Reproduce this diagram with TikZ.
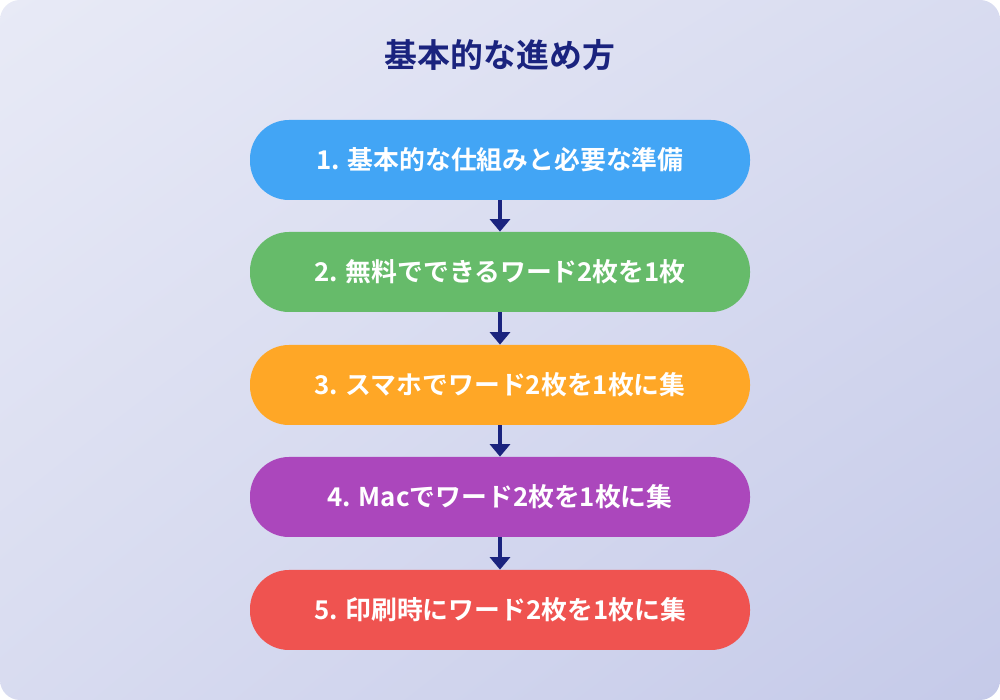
\documentclass[tikz,border=0pt]{standalone}
\usepackage{fontspec}
\usepackage{xcolor}
\usepackage{tikz}
\usetikzlibrary{arrows.meta, positioning, calc, shadings}
\newfontfamily\jpfont{Noto Sans CJK JP}[BoldFont={* Bold}]
\definecolor{bgA}{HTML}{E8EAF6}
\definecolor{bgB}{HTML}{C5CAE9}
\definecolor{navy}{HTML}{1A237E}
\definecolor{stepblue}{HTML}{42A5F5}
\definecolor{stepgreen}{HTML}{66BB6A}
\definecolor{steporange}{HTML}{FFA726}
\definecolor{steppurple}{HTML}{AB47BC}
\definecolor{stepred}{HTML}{EF5350}

\begin{document}
\begin{tikzpicture}[
    stepbox/.style={rectangle, rounded corners=0.78cm, minimum width=10cm, minimum height=1.6cm, text=white, font=\jpfont\bfseries\fontsize{14.7}{17}\selectfont},
    arrow/.style={-{Triangle[width=0.4cm,length=0.25cm]}, line width=0.09cm, navy}
]

% Background
\useasboundingbox (0,0) rectangle (20,14);
\shade[rounded corners=0.4cm, upper left=bgA, upper right=bgA!55!bgB, lower left=bgA!55!bgB, lower right=bgB] (0,0) rectangle (20,14);

% Title
\node[text=navy, font=\jpfont\bfseries\fontsize{18.7}{22}\selectfont] (T) at (10,12.9) {基本的な進め方};

% Steps
\node[stepbox, fill=stepblue] (S1) at (10,10.8) {1. 基本的な仕組みと必要な準備};
\node[stepbox, fill=stepgreen] (S2) at (10,8.56) {2. 無料でできるワード2枚を1枚};
\node[stepbox, fill=steporange] (S3) at (10,6.3) {3. スマホでワード2枚を1枚に集};
\node[stepbox, fill=steppurple] (S4) at (10,4.06) {4. Macでワード2枚を1枚に集};
\node[stepbox, fill=stepred] (S5) at (10,1.8) {5. 印刷時にワード2枚を1枚に集};

% Arrows
\draw[arrow] (S1) -- (S2);
\draw[arrow] (S2) -- (S3);
\draw[arrow] (S3) -- (S4);
\draw[arrow] (S4) -- (S5);

\end{tikzpicture}
\end{document}
